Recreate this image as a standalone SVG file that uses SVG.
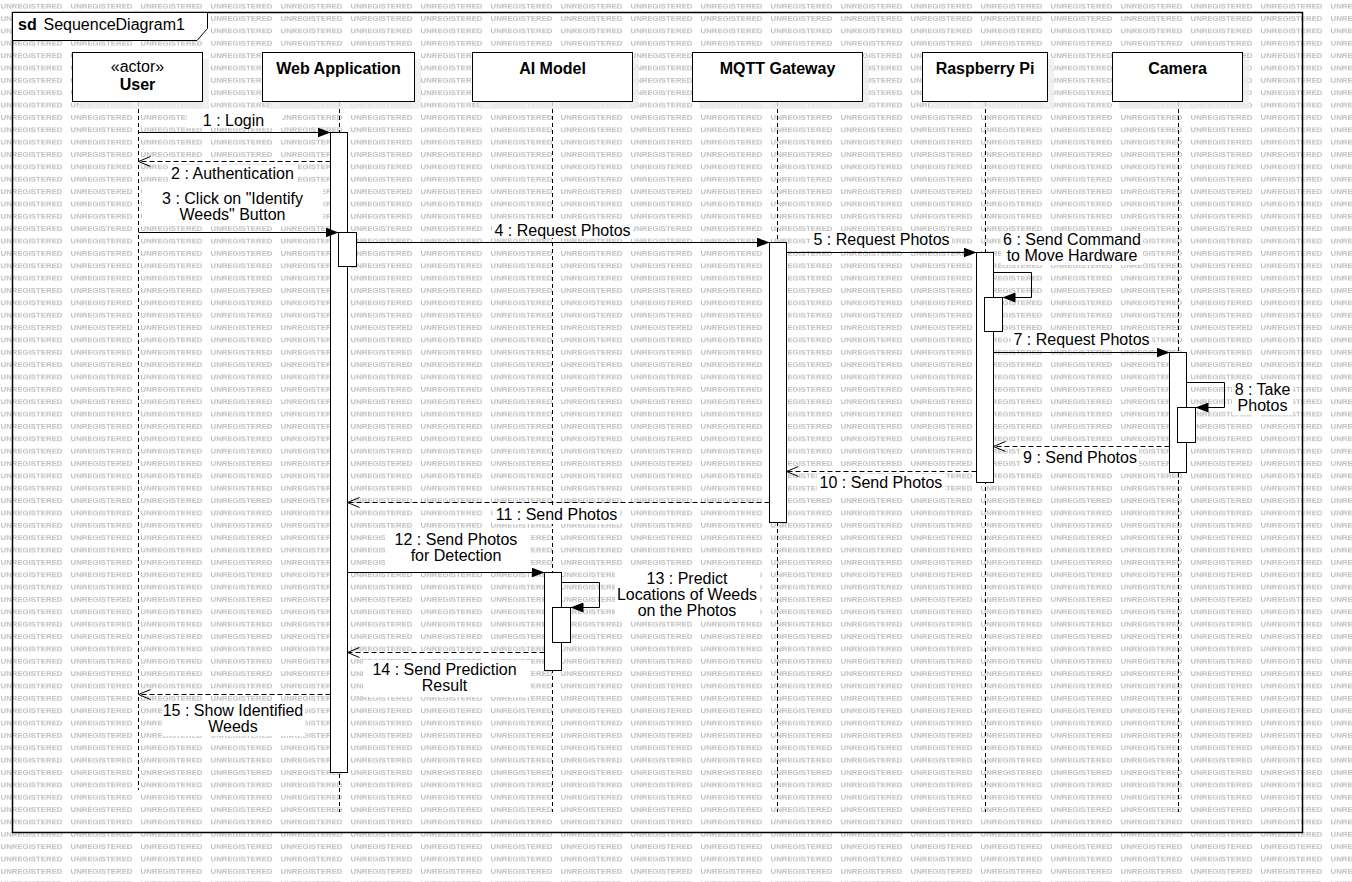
<svg xmlns="http://www.w3.org/2000/svg" width="1352" height="882" viewBox="0 0 1352 882">
<style>
text{font-family:"Liberation Sans",Arial,sans-serif;font-size:16px;fill:#000}
.b{font-weight:bold}
.m{text-anchor:middle}
.wm{font-family:"Liberation Sans",Arial,sans-serif;font-size:7.6px;font-weight:bold;fill:#bfbfbf}
.head{fill:#fff;stroke:#000;stroke-width:1}
.shadow{fill:#ededed;fill-opacity:0.8}
.act{fill:#fff;stroke:#000;stroke-width:1}
.life{stroke:#000;stroke-width:1;stroke-dasharray:4 3;fill:none}
.call{stroke:#000;stroke-width:1;fill:none;marker-end:url(#filled)}
.ret{stroke:#000;stroke-width:1;fill:none;stroke-dasharray:5 3;marker-end:url(#open)}
.lbg{fill:#fff}
</style>
<defs>
<pattern id="wmark" patternUnits="userSpaceOnUse" x="0" y="0" width="70" height="12.36">
<text class="wm" x="0.5" y="8.8" textLength="62" lengthAdjust="spacingAndGlyphs">UNREGISTERED</text>
</pattern>
<marker id="filled" markerUnits="userSpaceOnUse" viewBox="0 0 13 10" refX="13" refY="5" markerWidth="13" markerHeight="10" orient="auto">
<path d="M0,0 L13,5 L0,10 z" fill="#000"/>
</marker>
<marker id="open" markerUnits="userSpaceOnUse" viewBox="-1 -1 14 12" refX="12" refY="5" markerWidth="14" markerHeight="12" orient="auto">
<path d="M0,0 L12,5 L0,10" fill="none" stroke="#000" stroke-width="1"/>
</marker>
</defs>
<rect x="0" y="0" width="1352" height="882" fill="#fff"/>
<rect x="0" y="0" width="1352" height="882" fill="url(#wmark)"/>

<g id="frame">
<rect x="12.5" y="12.5" width="1290" height="820" fill="none" stroke="#000" stroke-width="1.5"/>
<path d="M12.5,12.5 H207.5 V28.5 L197,40.5 H12.5 Z" fill="#fff" stroke="#000" stroke-width="1"/>
<text x="18" y="30" class="b">sd</text>
<text x="43.5" y="30">SequenceDiagram1</text>
</g>

<g id="lifelines">
<line class="life" x1="138.5" y1="102" x2="138.5" y2="790"/>
<line class="life" x1="339.5" y1="102" x2="339.5" y2="812"/>
<line class="life" x1="552.5" y1="102" x2="552.5" y2="812"/>
<line class="life" x1="777.5" y1="102" x2="777.5" y2="812"/>
<line class="life" x1="985.5" y1="102" x2="985.5" y2="812"/>
<line class="life" x1="1178.5" y1="102" x2="1178.5" y2="812"/>
</g>

<g id="user">
<rect class="shadow" x="79" y="59" width="130" height="50"/>
<rect class="head" x="72.5" y="52.5" width="130" height="49"/>
<text class="m" x="137.5" y="72">«actor»</text>
<text class="m b" x="137.5" y="90">User</text>
</g>
<g id="webapp">
<rect class="shadow" x="269" y="59" width="152" height="50"/>
<rect class="head" x="262.5" y="52.5" width="152" height="49"/>
<text class="m b" x="338.5" y="74">Web Application</text>
<rect class="act" x="330.5" y="132.5" width="17" height="640"/>
<rect class="act" x="338.5" y="232.5" width="18" height="34"/>
</g>
<g id="aimodel">
<rect class="shadow" x="479" y="59" width="160" height="50"/>
<rect class="head" x="472.5" y="52.5" width="160" height="49"/>
<text class="m b" x="552.5" y="74">AI Model</text>
<rect class="act" x="544.5" y="572.5" width="17" height="98"/>
<rect class="act" x="552.5" y="607.5" width="18" height="35"/>
</g>
<g id="mqtt">
<rect class="shadow" x="699" y="59" width="170" height="50"/>
<rect class="head" x="692.5" y="52.5" width="170" height="49"/>
<text class="m b" x="777.5" y="74">MQTT Gateway</text>
<rect class="act" x="769.5" y="242.5" width="17" height="280"/>
</g>
<g id="raspberrypi">
<rect class="shadow" x="929" y="59" width="125" height="50"/>
<rect class="head" x="922.5" y="52.5" width="125" height="49"/>
<text class="m b" x="985" y="74">Raspberry Pi</text>
<rect class="act" x="976.5" y="252.5" width="17" height="230"/>
<rect class="act" x="984.5" y="297.5" width="18" height="34"/>
</g>
<g id="camera">
<rect class="shadow" x="1119" y="59" width="130" height="50"/>
<rect class="head" x="1112.5" y="52.5" width="130" height="49"/>
<text class="m b" x="1177.5" y="74">Camera</text>
<rect class="act" x="1169.5" y="352.5" width="17" height="120"/>
<rect class="act" x="1177.5" y="407.5" width="18" height="35"/>
</g>

<g id="connectors">
<line class="call" x1="138.5" y1="132.5" x2="330.5" y2="132.5"/>
<rect class="lbg" x="187" y="110" width="95" height="18"/>
<text class="m" x="233.5" y="126">1 : Login</text>

<line class="ret" x1="330.5" y1="161.5" x2="138.5" y2="161.5"/>
<rect class="lbg" x="168" y="165" width="129" height="18"/>
<text class="m" x="232.5" y="179">2 : Authentication</text>

<line class="call" x1="138.5" y1="232.5" x2="338.5" y2="232.5"/>
<rect class="lbg" x="142" y="189" width="181" height="35"/>
<text class="m" x="232.5" y="204">3 : Click on "Identify</text>
<text class="m" x="232.5" y="220">Weeds" Button</text>

<line class="call" x1="356.5" y1="242.5" x2="769.5" y2="242.5"/>
<rect class="lbg" x="492" y="221" width="141" height="17"/>
<text class="m" x="562.5" y="235.5">4 : Request Photos</text>

<line class="call" x1="786.5" y1="252.5" x2="976.5" y2="252.5"/>
<rect class="lbg" x="811" y="231" width="141" height="17"/>
<text class="m" x="881.5" y="245">5 : Request Photos</text>

<path class="call" d="M993.5,272.5 H1031.5 V297.5 H1002.5"/>
<rect class="lbg" x="1001" y="231" width="142" height="34"/>
<text class="m" x="1072" y="245">6 : Send Command</text>
<text class="m" x="1072" y="261">to Move Hardware</text>

<line class="call" x1="993.5" y1="352.5" x2="1169.5" y2="352.5"/>
<rect class="lbg" x="1011" y="331" width="141" height="17"/>
<text class="m" x="1081.5" y="345">7 : Request Photos</text>

<path class="call" d="M1186.5,382.5 H1224.5 V407.5 H1195.5"/>
<rect class="lbg" x="1232" y="381" width="61" height="34"/>
<text class="m" x="1262.5" y="395">8 : Take</text>
<text class="m" x="1262.5" y="411">Photos</text>

<line class="ret" x1="1169.5" y1="446.5" x2="993.5" y2="446.5"/>
<rect class="lbg" x="1021" y="449" width="118" height="18"/>
<text class="m" x="1080" y="463">9 : Send Photos</text>

<line class="ret" x1="976.5" y1="471.5" x2="786.5" y2="471.5"/>
<rect class="lbg" x="817" y="474" width="128" height="18"/>
<text class="m" x="881" y="488">10 : Send Photos</text>

<line class="ret" x1="769.5" y1="502.5" x2="347.5" y2="502.5"/>
<rect class="lbg" x="493" y="506" width="127" height="18"/>
<text class="m" x="556.5" y="520">11 : Send Photos</text>

<line class="call" x1="347.5" y1="572.5" x2="544.5" y2="572.5"/>
<rect class="lbg" x="385" y="531" width="145" height="34"/>
<text class="m" x="456" y="545">12 : Send Photos</text>
<text class="m" x="456" y="561">for Detection</text>

<path class="call" d="M561.5,582.5 H599.5 V607.5 H570.5"/>
<rect class="lbg" x="615" y="569" width="145" height="50"/>
<text class="m" x="687" y="584">13 : Predict</text>
<text class="m" x="687" y="600">Locations of Weeds</text>
<text class="m" x="687" y="616">on the Photos</text>

<line class="ret" x1="544.5" y1="652.5" x2="347.5" y2="652.5"/>
<rect class="lbg" x="363" y="660" width="167" height="37"/>
<text class="m" x="444.5" y="675">14 : Send Prediction</text>
<text class="m" x="444.5" y="691">Result</text>

<line class="ret" x1="330.5" y1="694.5" x2="138.5" y2="694.5"/>
<rect class="lbg" x="162" y="701" width="143" height="35"/>
<text class="m" x="233" y="715.5">15 : Show Identified</text>
<text class="m" x="233" y="731.5">Weeds</text>
</g>
</svg>
